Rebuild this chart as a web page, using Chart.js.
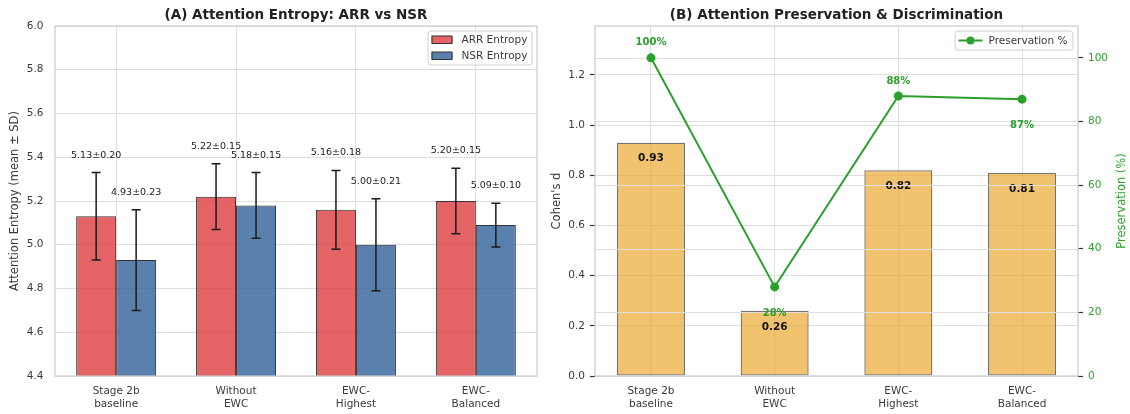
<!DOCTYPE html>
<html><head><meta charset="utf-8">
<script src="https://cdn.jsdelivr.net/npm/chart.js@4.4.1/dist/chart.umd.min.js"></script>
<style>
html,body{margin:0;padding:0;background:#fff;width:1130px;height:414px;overflow:hidden}
canvas{position:absolute;top:0}
#c1{left:0}
#c2{left:545px}
</style></head><body>
<canvas id="c1" width="545" height="414"></canvas>
<canvas id="c2" width="585" height="414"></canvas>
<script>
// ---------- data ----------
const categories = [['Stage 2b','baseline'],['Without','EWC'],['EWC-','Highest'],['EWC-','Balanced']];
const arrEntropy = [5.13, 5.22, 5.16, 5.20];
const arrSD      = [0.20, 0.15, 0.18, 0.15];
const nsrEntropy = [4.93, 5.18, 5.00, 5.09];
const nsrSD      = [0.23, 0.15, 0.21, 0.10];
const cohensD      = [0.93, 0.26, 0.82, 0.81];
const preservation = [100, 28, 88, 87];
const entropyTicks = [4.4, 4.6, 4.8, 5.0, 5.2, 5.4, 5.6, 5.8, 6.0];
const cohenTicks   = [0, 0.2, 0.4, 0.6, 0.8, 1.0, 1.2];
const presTicks    = [0, 20, 40, 60, 80, 100];

// ---------- style ----------
const FONT = "'DejaVu Sans', sans-serif";
Chart.defaults.font.family = FONT;
Chart.defaults.color = '#3a3a3a';
const GRID = '#dedede';
const BORDER = '#cccccc';
const TXT = '#3a3a3a';
const GREEN = '#2ca02c';
const RED = 'rgba(221,61,64,0.8)';
const BLUE = 'rgba(49,97,152,0.8)';
const GOLD = 'rgba(236,170,50,0.7)';

const toPts = arr => arr.map((v, i) => ({x: i, y: v}));
const catTicks = axis => { axis.ticks = categories.map((_, i) => ({value: i})); };
const fixedTicks = list => axis => { axis.ticks = list.map(v => ({value: v})); };

function drawFrame(chart, title) {
  const {ctx, chartArea: a} = chart;
  ctx.save();
  ctx.strokeStyle = BORDER; ctx.lineWidth = 1.25;
  ctx.strokeRect(a.left, a.top, a.right - a.left, a.bottom - a.top);
  ctx.fillStyle = '#222';
  ctx.font = `bold 13.5px ${FONT}`;
  ctx.textAlign = 'center'; ctx.textBaseline = 'middle';
  ctx.fillText(title, (a.left + a.right) / 2, 15);
  ctx.restore();
}
function legendBox(ctx, x, y, w, h) {
  ctx.save();
  ctx.fillStyle = 'rgba(255,255,255,0.85)';
  ctx.strokeStyle = '#d0d0d0'; ctx.lineWidth = 1;
  ctx.beginPath();
  ctx.roundRect(x + 0.5, y + 0.5, w, h, 3);
  ctx.fill(); ctx.stroke();
  ctx.restore();
}

// ---------- chart A ----------
const leftPlugin = {
  id: 'leftExtras',
  afterDatasetsDraw(chart) {
    const {ctx, chartArea: a} = chart;
    const ys = chart.scales.y;
    const sets = [[arrEntropy, arrSD], [nsrEntropy, nsrSD]];
    ctx.save();
    sets.forEach(([means, sds], di) => {
      chart.getDatasetMeta(di).data.forEach((bar, i) => {
        const x = bar.x;
        const yt = ys.getPixelForValue(means[i] + sds[i]);
        const yb = ys.getPixelForValue(means[i] - sds[i]);
        ctx.strokeStyle = '#1a1a1a'; ctx.lineWidth = 1.5;
        ctx.beginPath();
        ctx.moveTo(x, yt); ctx.lineTo(x, yb);
        ctx.moveTo(x - 4.5, yt); ctx.lineTo(x + 4.5, yt);
        ctx.moveTo(x - 4.5, yb); ctx.lineTo(x + 4.5, yb);
        ctx.stroke();
        ctx.fillStyle = '#222';
        ctx.font = `9.5px ${FONT}`;
        ctx.textAlign = 'center'; ctx.textBaseline = 'middle';
        ctx.fillText(`${means[i].toFixed(2)}±${sds[i].toFixed(2)}`, x, yt - 17.5);
      });
    });
    ctx.restore();
    drawFrame(chart, '(A) Attention Entropy: ARR vs NSR');
    // legend
    const w = 104, h = 34;
    const bx = a.right - 5.5 - w, by = a.top + 4.5;
    legendBox(ctx, bx, by, w, h);
    ctx.save();
    chart.data.datasets.forEach((ds, i) => {
      const cy = by + 9 + i * 16;
      ctx.fillStyle = ds.backgroundColor; ctx.strokeStyle = '#333'; ctx.lineWidth = 1;
      ctx.fillRect(bx + 4, cy - 3.5, 21, 7.5);
      ctx.strokeRect(bx + 4.5, cy - 3.5, 20, 7.5);
      ctx.fillStyle = TXT; ctx.font = `10.5px ${FONT}`;
      ctx.textAlign = 'left'; ctx.textBaseline = 'middle';
      ctx.fillText(ds.label, bx + 34, cy + 0.5);
    });
    ctx.restore();
  }
};

new Chart(document.getElementById('c1'), {
  type: 'bar',
  data: {
    datasets: [
      {label: 'ARR Entropy', data: toPts(arrEntropy), backgroundColor: RED, borderColor: '#333', borderWidth: 1, borderSkipped: false},
      {label: 'NSR Entropy', data: toPts(nsrEntropy), backgroundColor: BLUE, borderColor: '#333', borderWidth: 1, borderSkipped: false}
    ]
  },
  options: {
    responsive: false, animation: false, devicePixelRatio: 1,
    categoryPercentage: 0.667, barPercentage: 1.0,
    layout: {padding: {top: 26, right: 8, left: 0, bottom: 0}},
    plugins: {legend: {display: false}, tooltip: {enabled: false}},
    scales: {
      x: {
        type: 'linear', min: -0.51, max: 3.51, offset: false,
        afterBuildTicks: catTicks,
        afterFit: s => { s.height = 38; },
        grid: {color: GRID, drawTicks: false, offset: false},
        border: {display: false},
        ticks: {callback: v => categories[v], color: TXT, font: {size: 10.5}, padding: 9, maxRotation: 0, autoSkip: false}
      },
      y: {
        min: 4.4, max: 6.0,
        afterBuildTicks: fixedTicks(entropyTicks),
        afterFit: s => { s.width = 55; },
        grid: {color: GRID, drawTicks: false},
        border: {display: false},
        ticks: {callback: v => v.toFixed(1), color: TXT, font: {size: 10.5}, padding: 11.5},
        title: {display: true, text: 'Attention Entropy (mean ± SD)', color: TXT, font: {size: 11.5}, padding: {top: 8, bottom: 0}}
      }
    }
  },
  plugins: [leftPlugin]
});

// ---------- chart B ----------
const rightPlugin = {
  id: 'rightExtras',
  afterDatasetDraw(chart, args) {
    if (args.index !== 0) return;
    const {ctx, chartArea: a} = chart;
    const y2 = chart.scales.y2;
    ctx.save();
    // Cohen's d labels
    chart.getDatasetMeta(0).data.forEach((bar, i) => {
      ctx.fillStyle = '#111';
      ctx.font = `bold 10.5px ${FONT}`;
      ctx.textAlign = 'center'; ctx.textBaseline = 'middle';
      ctx.fillText(cohensD[i].toFixed(2), bar.x, bar.y + 16);
    });
    // twin-axis grid above bars
    ctx.strokeStyle = GRID; ctx.lineWidth = 1;
    presTicks.forEach(v => {
      const yy = Math.round(y2.getPixelForValue(v)) + 0.5;
      ctx.beginPath(); ctx.moveTo(a.left, yy); ctx.lineTo(a.right, yy); ctx.stroke();
    });
    ctx.restore();
  },
  afterDatasetsDraw(chart) {
    const {ctx, chartArea: a} = chart;
    ctx.save();
    chart.getDatasetMeta(1).data.forEach((pt, i) => {
      ctx.fillStyle = GREEN;
      ctx.font = `bold 10px ${FONT}`;
      ctx.textAlign = 'center'; ctx.textBaseline = 'middle';
      const dy = (i % 2 === 1) ? 26 : -15;
      ctx.fillText(`${preservation[i]}%`, pt.x, pt.y + dy);
    });
    // right axis title
    ctx.translate(577, (a.top + a.bottom) / 2);
    ctx.rotate(-Math.PI / 2);
    ctx.fillStyle = GREEN; ctx.font = `11.5px ${FONT}`;
    ctx.textAlign = 'center'; ctx.textBaseline = 'middle';
    ctx.fillText('Preservation (%)', 0, 0);
    ctx.restore();
    drawFrame(chart, '(B) Attention Preservation & Discrimination');
    // legend
    const ds = chart.data.datasets[1];
    const w = 118, h = 19;
    const bx = a.right - 5.5 - w, by = a.top + 4.5;
    legendBox(ctx, bx, by, w, h);
    ctx.save();
    const cy = by + 10;
    ctx.strokeStyle = ds.borderColor; ctx.lineWidth = 2;
    ctx.beginPath(); ctx.moveTo(bx + 4, cy); ctx.lineTo(bx + 28, cy); ctx.stroke();
    ctx.fillStyle = ds.backgroundColor;
    ctx.beginPath(); ctx.arc(bx + 16, cy, 4, 0, Math.PI * 2); ctx.fill();
    ctx.fillStyle = TXT; ctx.font = `10.5px ${FONT}`;
    ctx.textAlign = 'left'; ctx.textBaseline = 'middle';
    ctx.fillText(ds.label, bx + 34, cy + 0.5);
    ctx.restore();
  }
};

new Chart(document.getElementById('c2'), {
  type: 'bar',
  data: {
    datasets: [
      {type: 'bar', label: "Cohen's d", data: toPts(cohensD), yAxisID: 'y', backgroundColor: GOLD,
       borderColor: 'rgba(90,90,90,0.85)', borderWidth: 1.3, borderSkipped: false, order: 2},
      {type: 'line', label: 'Preservation %', data: toPts(preservation), yAxisID: 'y2',
       borderColor: GREEN, backgroundColor: GREEN, borderWidth: 2, pointRadius: 4.5,
       pointBackgroundColor: GREEN, pointBorderWidth: 0, tension: 0, order: 1}
    ]
  },
  options: {
    responsive: false, animation: false, devicePixelRatio: 1,
    categoryPercentage: 0.55, barPercentage: 1.0,
    layout: {padding: {top: 26, right: 0, left: 0, bottom: 0}},
    plugins: {legend: {display: false}, tooltip: {enabled: false}},
    scales: {
      x: {
        type: 'linear', min: -0.4525, max: 3.4525, offset: false,
        afterBuildTicks: catTicks,
        afterFit: s => { s.height = 38; },
        grid: {color: GRID, drawTicks: false, offset: false},
        border: {display: false},
        ticks: {callback: v => categories[v], color: TXT, font: {size: 10.5}, padding: 9, maxRotation: 0, autoSkip: false}
      },
      y: {
        position: 'left', min: 0, max: Math.max(...cohensD) * 1.5,
        afterBuildTicks: fixedTicks(cohenTicks),
        afterFit: s => { s.width = 50; },
        grid: {color: GRID, drawTicks: true, tickLength: 5, tickColor: '#333', tickWidth: 1.2},
        border: {display: false},
        ticks: {callback: v => v.toFixed(1), color: TXT, font: {size: 10.5}, padding: 5},
        title: {display: true, text: "Cohen's d", color: TXT, font: {size: 11.5}, padding: {top: 5, bottom: 0}}
      },
      y2: {
        position: 'right', min: 0, max: 110,
        afterBuildTicks: fixedTicks(presTicks),
        afterFit: s => { s.width = 52; },
        grid: {drawOnChartArea: false, drawTicks: true, tickLength: 5, tickColor: '#333', tickWidth: 1.2},
        border: {display: false},
        ticks: {callback: v => String(v), color: GREEN, font: {size: 10.5}, padding: 5}
      }
    }
  },
  plugins: [rightPlugin]
});
</script>
</body></html>
